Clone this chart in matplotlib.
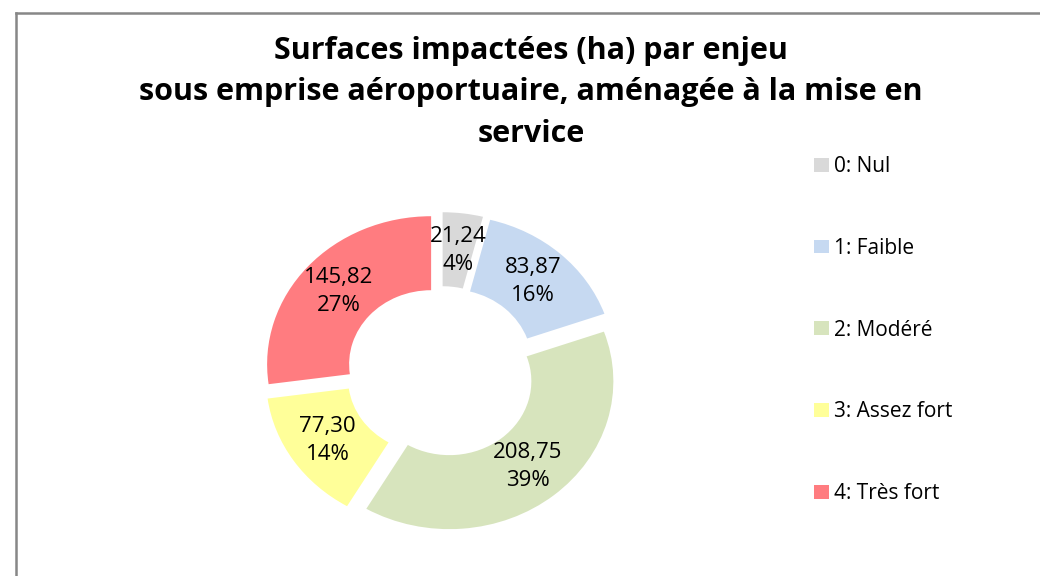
import matplotlib
matplotlib.use("Agg")
import matplotlib.pyplot as plt
from matplotlib.lines import Line2D
import numpy as np

categories = ["0: Nul", "1: Faible", "2: Modéré", "3: Assez fort", "4: Très fort"]
values = [21.24, 83.87, 208.75, 77.30, 145.82]
percent_labels = ["4%", "16%", "39%", "14%", "27%"]
value_labels = ["21,24", "83,87", "208,75", "77,30", "145,82"]
colors = ["#D9D9D9", "#C6D9F1", "#D7E4BD", "#FFFF99", "#FF7C80"]
title = "Surfaces impactées (ha) par enjeu\nsous emprise aéroportuaire, aménagée à la mise en\nservice"

FONT = ["Open Sans", "DejaVu Sans"]
plt.rcParams['font.family'] = FONT

W, H = 1040, 576
fig = plt.figure(figsize=(W / 100, H / 100), dpi=100)

# pie axes: centre at (441, 372) px, radius x 164 px, y 148 px
cx, cy, rx, ry = 441, 372, 164, 148
half = 1.35
ax = fig.add_axes([(cx - half * rx) / W, (H - cy - half * ry) / H,
                   2 * half * rx / W, 2 * half * ry / H])
wedges, _ = ax.pie(values, colors=colors, startangle=90, counterclock=False,
                   explode=[0.08] * len(values),
                   wedgeprops=dict(width=0.5, linewidth=0))
ax.set_aspect('auto')
ax.set_xlim(-half, half)
ax.set_ylim(-half, half)
ax.axis('off')

for w, v, p in zip(wedges, value_labels, percent_labels):
    ang = np.deg2rad((w.theta1 + w.theta2) / 2)
    x0, y0 = w.center
    r = 0.75
    ax.text(x0 + r * np.cos(ang), y0 + r * np.sin(ang), f"{v}\n{p}",
            ha='center', va='center', fontsize=16, linespacing=1.45, color='black')

fig.text(531 / W, 1 - 36 / H, title, ha='center', va='top', fontsize=22,
         fontweight='bold', linespacing=1.49)

leg = fig.legend(wedges, categories, loc='upper left',
                 bbox_to_anchor=(814 / W, 1 - 156 / H), frameon=False,
                 fontsize=15, handlelength=0.7, handleheight=0.65,
                 handletextpad=0.25, labelspacing=2.92, borderpad=0, borderaxespad=0)

# chart border (left and top edges visible)
fig.add_artist(Line2D([15.5 / W, 15.5 / W], [0, 1 - 12.5 / H], color="#878787", lw=1.8,
                      transform=fig.transFigure))
fig.add_artist(Line2D([15.5 / W, 1], [1 - 12.5 / H, 1 - 12.5 / H], color="#878787", lw=1.8,
                      transform=fig.transFigure))

fig.savefig("out.png", dpi=100, facecolor="white")
